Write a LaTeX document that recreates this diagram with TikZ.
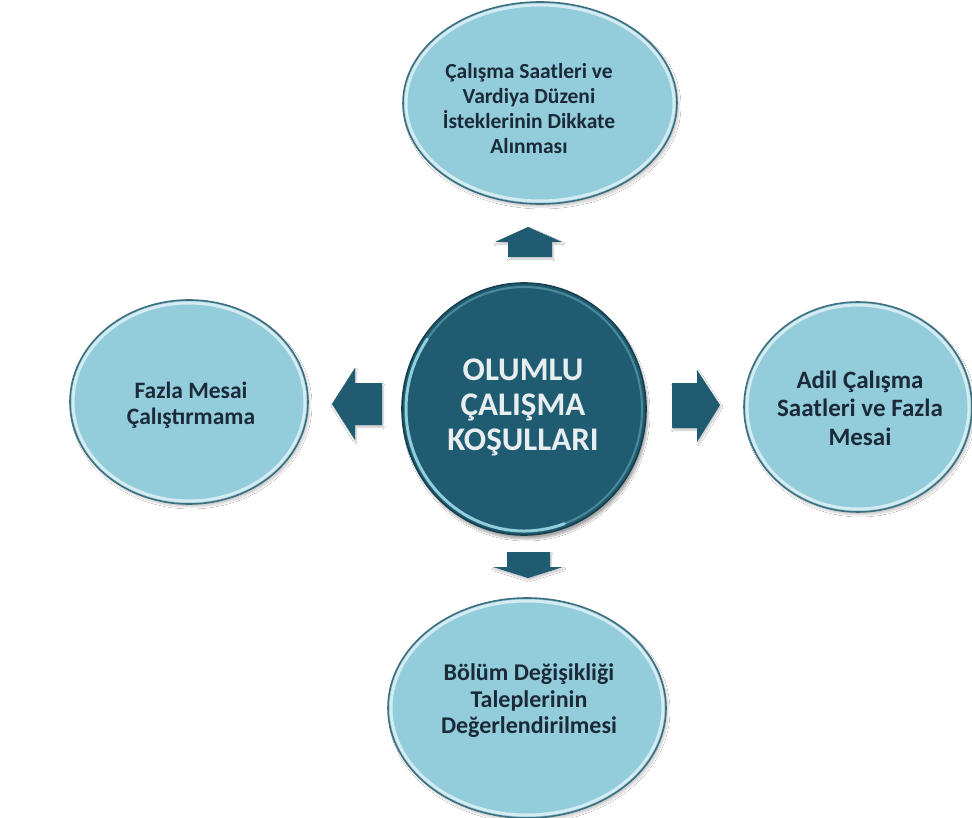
\documentclass[tikz,border=0pt]{standalone}
\usepackage{fontspec}
\setmainfont{Carlito}
\usetikzlibrary{shadows.blur}
\definecolor{deepteal}{HTML}{1F5C71}
\definecolor{deeptealedge}{HTML}{163F4E}
\definecolor{rimglow}{HTML}{9EDCE8}
\definecolor{paleblue}{HTML}{93CDDC}
\definecolor{paleedge}{HTML}{3E6F7F}
\definecolor{inktext}{HTML}{1B2A38}
\definecolor{hubtext}{HTML}{E8EEF0}
\tikzset{
  sattext/.style={align=center, text=inktext},
  hubtextstyle/.style={align=center, text=hubtext, font=\bfseries\fontsize{33}{35}\selectfont},
  blockarrow/.style={fill=deepteal, draw=none, blur shadow={shadow xshift=1pt, shadow yshift=-2pt, shadow blur steps=6, shadow opacity=25}},
}
% glossy light-blue bubble: centre, x radius, y radius
\newcommand{\bubble}[3]{%
  \fill[paleblue, blur shadow={shadow xshift=2pt, shadow yshift=-3pt, shadow blur steps=8, shadow opacity=20}] #1 ellipse[x radius=#2, y radius=#3];
  \draw[white, line width=3pt, opacity=0.6] #1 ellipse[x radius=#2-3, y radius=#3-3];
  \draw[paleedge, line width=1.6pt] #1 ellipse[x radius=#2, y radius=#3];
}
\begin{document}
\begin{tikzpicture}[x=1pt, y=-1pt]
\useasboundingbox (0,0) rectangle (972,818);
\fill[white] (0,0) rectangle (972,818);

% outer bubbles
\bubble{(540,103)}{137}{101}
\bubble{(189,402)}{119}{102}
\bubble{(858,407)}{114}{105}
\bubble{(527,708)}{139}{110}

% central disc with a bright rim on its lower left
\fill[deepteal, blur shadow={shadow xshift=2pt, shadow yshift=-4pt, shadow blur steps=10, shadow opacity=35}] (524,409) ellipse[x radius=122, y radius=126];
\draw[rimglow, line width=2pt, opacity=0.35] (524,409) ellipse[x radius=118, y radius=122];
\draw[rimglow, line width=3pt, opacity=0.85, line cap=round] ([shift={(70:118 and 122)}]524,409) arc[start angle=70, end angle=215, x radius=118, y radius=122];
\draw[deeptealedge, line width=1.6pt] (524,409) ellipse[x radius=122, y radius=126];

% block arrows pointing outwards
\fill[blockarrow] (528,227) -- (562,242) -- (552,242) -- (552,257) -- (508,257) -- (508,242) -- (495,242) -- cycle;
\fill[blockarrow] (332,404) -- (355,368) -- (355,383) -- (382,383) -- (382,425) -- (355,425) -- (355,440) -- cycle;
\fill[blockarrow] (720,405) -- (697,442) -- (697,428) -- (672,428) -- (672,383) -- (697,383) -- (697,370) -- cycle;
\fill[blockarrow] (528,578) -- (563,567) -- (550,567) -- (550,552) -- (507,552) -- (507,567) -- (493,567) -- cycle;

% labels
\node[hubtextstyle] (hub) at (523,407) {OLUMLU\\ÇALIŞMA\\KOŞULLARI};
\node[sattext, font=\bfseries\fontsize{21.5}{25}\selectfont] (top) at (529,109) {Çalışma Saatleri ve\\Vardiya Düzeni\\İsteklerinin Dikkate\\Alınması};
\node[sattext, font=\bfseries\fontsize{23.5}{26}\selectfont] (left) at (191,405) {Fazla Mesai\\Çalıştırmama};
\node[sattext, font=\bfseries\fontsize{25}{28.5}\selectfont] (right) at (860,408) {Adil Çalışma\\Saatleri ve Fazla\\Mesai};
\node[sattext, font=\bfseries\fontsize{24}{26.5}\selectfont] (bottom) at (529,701) {Bölüm Değişikliği\\Taleplerinin\\Değerlendirilmesi};
\end{tikzpicture}
\end{document}
